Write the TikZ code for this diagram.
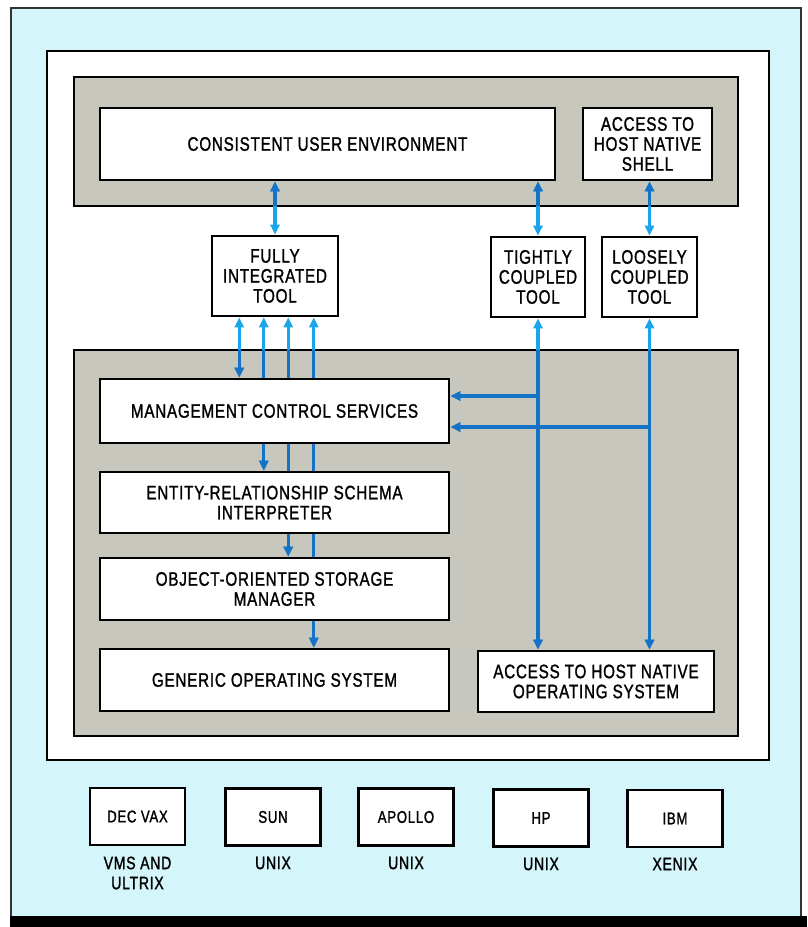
\documentclass[tikz,border=0pt]{standalone}
\usepackage{fontspec}
\setmainfont{Liberation Sans}[FakeStretch=0.78,LetterSpace=4,FakeBold=1.3]
\usetikzlibrary{arrows.meta,calc}
\pgfdeclarelayer{back}
\pgfdeclarelayer{arr}
\pgfsetlayers{back,arr,main}
\definecolor{cyanbg}{HTML}{D4F6FA}
\definecolor{panelgray}{HTML}{C7C7BD}
\definecolor{lblue}{HTML}{1CA6EA}
\definecolor{dblue}{HTML}{1672C4}
\newcommand\myarrowset[1]{%
  \draw[conn,#1] (cue.south -| fit.north) -- (fit.north);
  \draw[conn,#1] (cue.south -| tct.north) -- (tct.north);
  \draw[conn,#1] (shell.south -| lct.north) -- (lct.north);
  \draw[conn,#1] (f1) -- (f1 |- mcs.north);
  \draw[conn,#1] (f2) -- (f2 |- er.north);
  \draw[conn,#1] (f3) -- (f3 |- oosm.north);
  \draw[conn,#1] (f4) -- (f4 |- gos.north);
  \draw[conn,#1] (tct.south) -- (tct.south |- anos.north);
  \draw[conn,#1] (lct.south) -- (lct.south |- anos.north);
  \draw[conn1,#1] (b1) -- (b1 -| mcs.east);
  \draw[conn1,#1] (b2) -- (b2 -| mcs.east);
}
\begin{document}
\begin{tikzpicture}[x=1pt,y=-1pt,
  box/.style={draw=black, line width=2.6pt, fill=white, align=center, inner sep=0pt,
    font=\fontsize{19.5}{20}\selectfont},
  mbox/.style={draw=black, line width=2.6pt, fill=white, align=center, inner sep=0pt,
    minimum width=95pt, minimum height=57pt, font=\fontsize{17}{20}\selectfont},
  lab/.style={align=center, inner sep=0pt, font=\fontsize{18}{20}\selectfont},
  panel/.style={draw=black, line width=2pt, fill=panelgray},
  conn/.style={line width=3.2pt, arrows={Triangle[length=10pt,width=9pt]-Triangle[length=10pt,width=9pt]}},
  conn1/.style={line width=3.2pt, arrows={-Triangle[length=10pt,width=9pt]}}]
\useasboundingbox (0,0) rectangle (807,927);

% background and frames
\begin{pgfonlayer}{back}
  \fill[white] (0,0) rectangle (807,927);
  \draw[fill=cyanbg, draw=black!80, line width=1.5pt] (11,8) rectangle (801,918);
  \fill[black] (10,916) rectangle (807,927);
  \draw[fill=white, draw=black, line width=2.5pt] (47,51) rectangle (769,760);
  \draw[panel] (74,77) rectangle (738,206);
  \draw[panel] (74,350) rectangle (738,736);
\end{pgfonlayer}

% top panel
\node[box, minimum width=455pt, minimum height=72pt] (cue) at (327.5,144) {CONSISTENT USER ENVIRONMENT};
\node[box, minimum width=129pt, minimum height=72pt] (shell) at (647.5,144) {ACCESS TO\\HOST NATIVE\\SHELL};

% tools
\node[box, minimum width=126pt, minimum height=80pt] (fit) at (275,276) {FULLY\\INTEGRATED\\TOOL};
\node[box, minimum width=94pt, minimum height=80pt] (tct) at (538,277) {TIGHTLY\\COUPLED\\TOOL};
\node[box, minimum width=95pt, minimum height=80pt] (lct) at (649.5,277) {LOOSELY\\COUPLED\\TOOL};

% lower panel
\node[box, minimum width=349pt, minimum height=64pt] (mcs) at (274.5,411) {MANAGEMENT CONTROL SERVICES};
\node[box, minimum width=349pt, minimum height=61pt] (er) at (274.5,502.5) {ENTITY-RELATIONSHIP SCHEMA\\INTERPRETER};
\node[box, minimum width=349pt, minimum height=62pt] (oosm) at (274.5,589) {OBJECT-ORIENTED STORAGE\\MANAGER};
\node[box, minimum width=349pt, minimum height=62pt] (gos) at (274.5,680) {GENERIC OPERATING SYSTEM};
\node[box, minimum width=236pt, minimum height=61pt] (anos) at (596,681.5) {ACCESS TO HOST NATIVE\\OPERATING SYSTEM};

% machines
\node[mbox] (dec) at (137.5,816.5) {DEC VAX};
\node[mbox] (sun) at (273,817) {SUN};
\node[mbox] (apollo) at (406,817) {APOLLO};
\node[mbox] (hp) at (541,818) {HP};
\node[mbox] (ibm) at (675,818.5) {IBM};
\node[lab] (decos) at (137.5,873) {VMS AND\\ULTRIX};
\node[lab] (sunos) at (273,863) {UNIX};
\node[lab] (apolloos) at (406,863) {UNIX};
\node[lab] (hpos) at (541,864) {UNIX};
\node[lab] (ibmos) at (675,864) {XENIX};

% connector anchor points
\coordinate (f1) at ($(fit.south west)!0.222!(fit.south east)$);
\coordinate (f2) at ($(fit.south west)!0.413!(fit.south east)$);
\coordinate (f3) at ($(fit.south west)!0.603!(fit.south east)$);
\coordinate (f4) at ($(fit.south west)!0.802!(fit.south east)$);
\coordinate (b1) at (538,396);
\coordinate (b2) at (649.5,427);

\begin{pgfonlayer}{arr}
  \myarrowset{lblue}
  \begin{scope}
    \clip (74,77) rectangle (738,206) (74,350) rectangle (738,736);
    \myarrowset{dblue}
  \end{scope}
\end{pgfonlayer}
\end{tikzpicture}
\end{document}
